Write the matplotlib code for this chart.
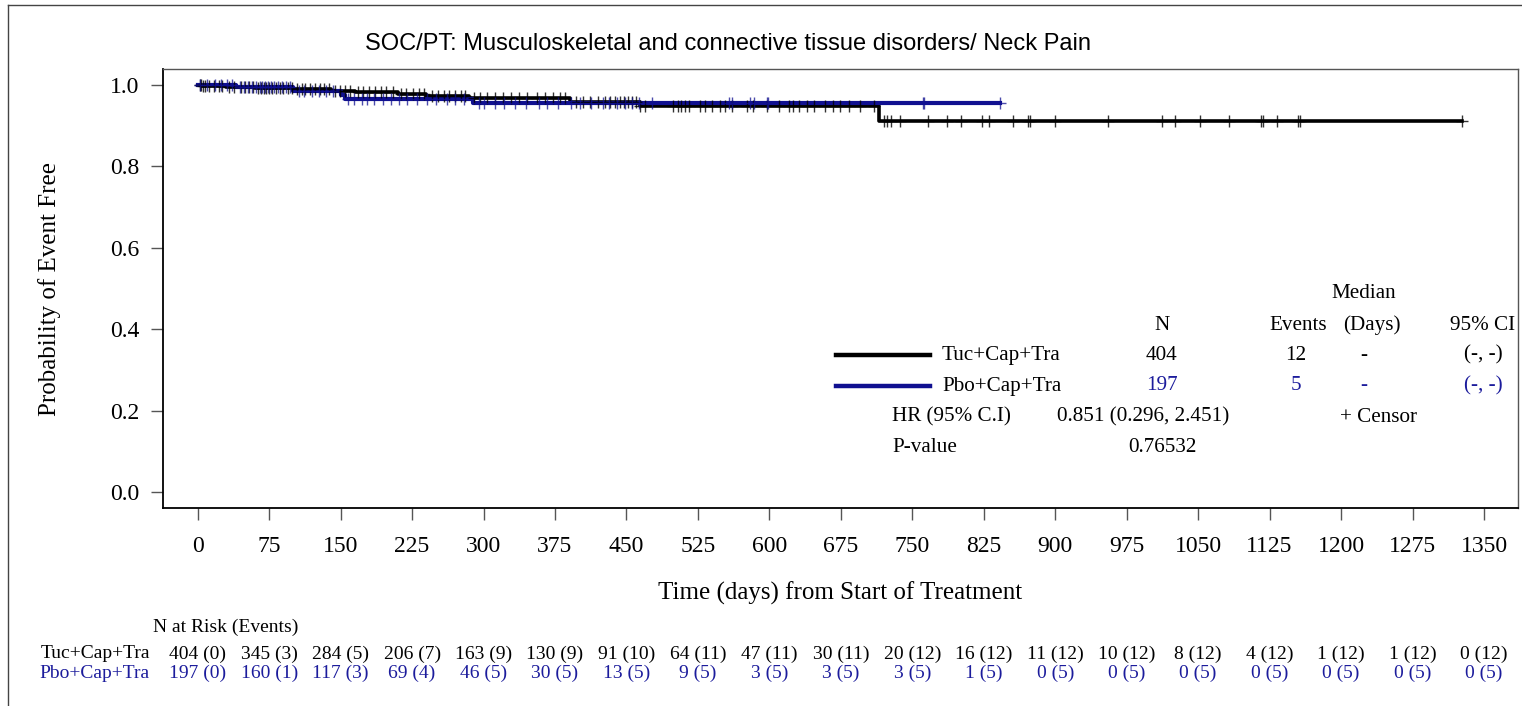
import numpy as np
import matplotlib
matplotlib.use('Agg')
import matplotlib.pyplot as plt
import matplotlib.transforms as mtransforms
from matplotlib.lines import Line2D

# ---- data ----
arm_names = ['Tuc+Cap+Tra', 'Pbo+Cap+Tra']
arm_n = [404, 197]
arm_events = [12, 5]
arm_median = ['-', '-']
arm_ci = ['(-, -)', '(-, -)']
hr_text = '0.851 (0.296, 2.451)'
p_value = '0.76532'

# KM steps (day of event, survival after it)
tuc_evt_days = [5, 30, 60, 100, 140, 165, 210, 240, 285, 391, 464, 715]
tuc_evt_surv = [0.9975, 0.995, 0.992, 0.989, 0.986, 0.982, 0.978, 0.973, 0.967, 0.959, 0.948, 0.911]
tuc_last_day = 1327
tuc_censor_days = [2, 3, 6, 8, 12, 17, 22, 26, 33, 38, 45, 50, 54, 58, 63, 66, 70, 72, 75, 78,
                   82, 86, 90, 95, 99, 104, 109, 113, 118, 123, 128, 133, 138, 144, 149, 155,
                   160, 168, 174, 180, 186, 192, 198, 205, 213, 219, 226, 232, 238, 246, 252,
                   258, 264, 270, 276, 281, 290, 296, 304, 312, 320, 329, 337, 346, 356, 365,
                   373, 380, 386, 397, 404, 412, 420, 428, 433, 438, 443, 447, 452, 456, 460,
                   464, 469, 499, 504, 507, 511, 516, 527, 532, 540, 548, 553, 561, 576, 583,
                   598, 610, 621, 625, 631, 640, 647, 658, 667, 674, 684, 695, 710,
                   720, 723, 728, 737, 766, 786, 801, 823, 831, 856, 871, 874, 900, 955,
                   1012, 1026, 1052, 1082, 1116, 1118, 1133, 1155, 1157, 1327]

pbo_evt_days = [40, 100, 150, 155, 289]
pbo_evt_surv = [0.995, 0.984, 0.975, 0.966, 0.955]
pbo_last_day = 842
pbo_censor_days = [2, 10, 18, 24, 31, 36, 44, 49, 53, 57, 61, 65, 68, 71, 74, 77, 80, 84, 88,
                   93, 97, 106, 112, 120, 127, 135, 142, 158, 164, 172, 178, 185, 194, 203,
                   211, 220, 230, 241, 250, 262, 270, 280, 295, 300, 312, 322, 333, 345, 358,
                   367, 378, 392, 401, 413, 425, 432, 440, 449, 456, 463, 477, 558, 561, 580,
                   584, 598, 599, 761, 762, 842]

risk_days = list(range(0, 1351, 75))
tuc_risk = ['404 (0)', '345 (3)', '284 (5)', '206 (7)', '163 (9)', '130 (9)', '91 (10)', '64 (11)',
            '47 (11)', '30 (11)', '20 (12)', '16 (12)', '11 (12)', '10 (12)', '8 (12)', '4 (12)',
            '1 (12)', '1 (12)', '0 (12)']
pbo_risk = ['197 (0)', '160 (1)', '117 (3)', '69 (4)', '46 (5)', '30 (5)', '13 (5)', '9 (5)',
            '3 (5)', '3 (5)', '3 (5)', '1 (5)', '0 (5)', '0 (5)', '0 (5)', '0 (5)', '0 (5)',
            '0 (5)', '0 (5)']

BLACK = 'black'
BLUE = '#101090'
BLUE_TXT = '#1c1c9c'
SERIF = 'Liberation Serif'

W, H = 1522, 706
fx = lambda px: px / W
fy = lambda py: 1 - py / H

fig = plt.figure(figsize=(W / 100, H / 100), dpi=100)
ax = fig.add_axes([fx(163), fy(508), fx(1518) - fx(163), fy(69) - fy(508)])

def surv_at(days, evt_days, evt_surv):
    levels = np.concatenate([[1.0], evt_surv])
    idx = np.searchsorted(evt_days, days, side='right')
    return levels[idx]

for evt_days, evt_surv, last, col, lw in [
        (tuc_evt_days, tuc_evt_surv, tuc_last_day, BLACK, 2.6),
        (pbo_evt_days, pbo_evt_surv, pbo_last_day, BLUE, 3.0)]:
    xs = np.concatenate([[0], evt_days, [last]])
    ys = np.concatenate([[1.0], evt_surv, [evt_surv[-1]]])
    ax.step(xs, ys, where='post', color=col, lw=lw, zorder=3)

for evt_days, evt_surv, cens, col, al in [
        (tuc_evt_days, tuc_evt_surv, tuc_censor_days, BLACK, 0.8),
        (pbo_evt_days, pbo_evt_surv, pbo_censor_days, BLUE, 0.75)]:
    cy = surv_at(np.array(cens), np.array(evt_days), np.array(evt_surv))
    ax.plot(cens, cy, ls='none', marker='+', ms=8, mew=1.0, color=col, alpha=al, zorder=4)

ax.set_xlim(-36.4, 1385.7)
ax.set_ylim(-0.0385, 1.039)
ax.set_xticks(risk_days)
ax.set_yticks([0.0, 0.2, 0.4, 0.6, 0.8, 1.0])
ax.set_yticklabels(['0.0', '0.2', '0.4', '0.6', '0.8', '1.0'])
ax.tick_params(axis='both', direction='out', length=8.6, width=1, color='#555555',
               labelsize=17, labelfontfamily=SERIF)
ax.tick_params(axis='x', pad=11.5)
ax.tick_params(axis='y', pad=8.5)
for s in ['left', 'bottom']:
    ax.spines[s].set_color('black')
    ax.spines[s].set_linewidth(1.3)
for s in ['top', 'right']:
    ax.spines[s].set_color('#555555')
    ax.spines[s].set_linewidth(1.0)

ax.set_xlabel('Time (days) from Start of Treatment', family=SERIF, fontsize=18, va='center')
ax.xaxis.set_label_coords(0.5, (508 - 593) / 439)
ax.set_ylabel('Probability of Event Free', family=SERIF, fontsize=18, va='center')
ax.yaxis.set_label_coords((50 - 163) / 1355, 0.5)

fig.text(fx(728), fy(44), 'SOC/PT: Musculoskeletal and connective tissue disorders/ Neck Pain',
         family='Liberation Sans', fontsize=17, ha='center', va='center')

# legend / summary table
tfs = 15.2
fig.text(fx(1364), fy(294), 'Median', family=SERIF, fontsize=tfs, ha='center', va='center')
for txt, xc in [('N', 1162), ('Events', 1298), ('(Days)', 1372), ('95% CI', 1483)]:
    fig.text(fx(xc), fy(325), txt, family=SERIF, fontsize=tfs, ha='center', va='center')
for i, (col, tcol) in enumerate([(BLACK, BLACK), (BLUE, BLUE_TXT)]):
    yy = 355 + 31 * i
    fig.add_artist(Line2D([fx(836), fx(930)], [fy(yy), fy(yy)], color=col, lw=3.2))
    fig.text(fx(942), fy(yy), arm_names[i], family=SERIF, fontsize=tfs, ha='left', va='center')
    fig.text(fx(1162), fy(yy), str(arm_n[i]), family=SERIF, fontsize=tfs, ha='center', va='center', color=tcol)
    fig.text(fx(1296), fy(yy), str(arm_events[i]), family=SERIF, fontsize=tfs, ha='center', va='center', color=tcol)
    fig.text(fx(1364), fy(yy), arm_median[i], family=SERIF, fontsize=tfs, ha='center', va='center', color=tcol)
    fig.text(fx(1483), fy(yy), arm_ci[i], family=SERIF, fontsize=tfs, ha='center', va='center', color=tcol)
fig.text(fx(892), fy(417), 'HR (95% C.I)', family=SERIF, fontsize=tfs, ha='left', va='center')
fig.text(fx(1057), fy(417), hr_text, family=SERIF, fontsize=tfs, ha='left', va='center')
fig.text(fx(1378), fy(417), '+ Censor', family=SERIF, fontsize=tfs, ha='center', va='center')
fig.text(fx(892), fy(448), 'P-value', family=SERIF, fontsize=tfs, ha='left', va='center')
fig.text(fx(1162), fy(448), p_value, family=SERIF, fontsize=tfs, ha='center', va='center')

# number at risk
rfs = 14
trans = mtransforms.blended_transform_factory(ax.transData, fig.transFigure)
fig.text(fx(153), fy(627), 'N at Risk (Events)', family=SERIF, fontsize=rfs, ha='left', va='center')
for row, (vals, col) in enumerate([(tuc_risk, BLACK), (pbo_risk, BLUE_TXT)]):
    yy = 654 + 19 * row
    fig.text(fx(150), fy(yy), arm_names[row], family=SERIF, fontsize=rfs, ha='right', va='center', color=col)
    for d, v in zip(risk_days, vals):
        ax.text(d, fy(yy), v, transform=trans, family=SERIF, fontsize=rfs, ha='center', va='center', color=col)

# outer frame
fig.add_artist(Line2D([fx(8), fx(8)], [fy(5), 0], color='#444444', lw=1.0))
fig.add_artist(Line2D([fx(8), 1], [fy(5), fy(5)], color='#444444', lw=1.0))

fig.savefig('out.png', dpi=100)
